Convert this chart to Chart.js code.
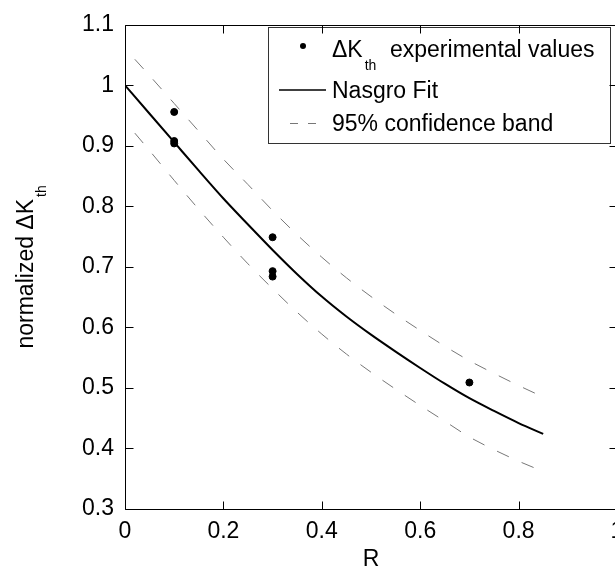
<!DOCTYPE html>
<html>
<head>
<meta charset="utf-8">
<script src="https://cdn.jsdelivr.net/npm/chart.js@4.4.1/dist/chart.umd.min.js"></script>
<style>
html, body { margin: 0; padding: 0; overflow: hidden; background: #fff; }
#wrap { width: 640px; height: 575px; }
</style>
</head>
<body>
<div id="wrap"><canvas id="myChart" width="640" height="575"></canvas></div>
<script>
const FONT = "'Liberation Sans', Arial, Helvetica, sans-serif";

// experimental threshold values
const expR = [0.1, 0.1, 0.1, 0.3, 0.3, 0.3, 0.7];
const expK = [0.956, 0.908, 0.904, 0.749, 0.693, 0.684, 0.509];

// Nasgro fit
const fitR = [0, 0.05, 0.1, 0.15, 0.2, 0.25, 0.3, 0.35, 0.4, 0.45, 0.5, 0.55, 0.6, 0.65, 0.7, 0.75, 0.8, 0.85];
const fitK = [1.000, 0.953, 0.906, 0.859, 0.813, 0.770, 0.728, 0.688, 0.651, 0.618, 0.588, 0.560, 0.533, 0.507, 0.483, 0.462, 0.442, 0.424];

// 95% confidence band
const bandR = [0.02, 0.05, 0.1, 0.15, 0.2, 0.25, 0.3, 0.35, 0.4, 0.45, 0.5, 0.55, 0.6, 0.65, 0.7, 0.75, 0.8, 0.85];
const bandUpper = [1.043, 1.016, 0.970, 0.924, 0.878, 0.836, 0.793, 0.753, 0.716, 0.682, 0.651, 0.622, 0.595, 0.569, 0.545, 0.524, 0.504, 0.485];
const bandLower = [0.921, 0.892, 0.843, 0.795, 0.749, 0.705, 0.664, 0.625, 0.589, 0.556, 0.526, 0.498, 0.471, 0.445, 0.419, 0.398, 0.379, 0.362];

const xTicks = [0, 0.2, 0.4, 0.6, 0.8, 1];
const yTicks = [0.3, 0.4, 0.5, 0.6, 0.7, 0.8, 0.9, 1, 1.1];

const legendLabels = ['experimental values', 'Nasgro Fit', '95% confidence band'];

function toPoints(xs, ys) {
    return xs.map((x, i) => ({ x: x, y: ys[i] }));
}

function fmt(v) {
    return String(Math.round(v * 10) / 10);
}

// frame, inward ticks and legend
const framePlugin = {
    id: 'frame',
    afterDatasetsDraw(chart) {
        const ctx = chart.ctx;
        const xs = chart.scales.x, ys = chart.scales.y;
        const a = chart.chartArea;
        const L = Math.round(a.left) + 0.5, R = Math.round(a.right) + 0.5;
        const T = Math.round(a.top) + 0.5, B = Math.round(a.bottom) + 0.5;
        ctx.save();

        // legend box
        ctx.fillStyle = '#fff';
        ctx.fillRect(268, 27, 342, 116);
        ctx.strokeStyle = '#333';
        ctx.lineWidth = 1;
        ctx.strokeRect(268.5, 27.5, 342, 116);

        ctx.fillStyle = '#000';
        ctx.beginPath();
        ctx.arc(303, 46, 3, 0, Math.PI * 2);
        ctx.fill();

        ctx.strokeStyle = '#000';
        ctx.lineWidth = 1.5;
        ctx.beginPath();
        ctx.moveTo(279, 90);
        ctx.lineTo(326, 90);
        ctx.stroke();

        ctx.strokeStyle = '#777';
        ctx.lineWidth = 1;
        ctx.setLineDash([8, 10]);
        ctx.lineDashOffset = -10;
        ctx.beginPath();
        ctx.moveTo(280, 123.5);
        ctx.lineTo(326, 123.5);
        ctx.stroke();
        ctx.setLineDash([]);

        ctx.fillStyle = '#000';
        ctx.textBaseline = 'alphabetic';
        ctx.textAlign = 'left';
        ctx.font = '23px ' + FONT;
        ctx.fillText('\u0394K', 332, 57);
        const kw = ctx.measureText('\u0394K').width;
        ctx.font = '14px ' + FONT;
        ctx.fillText('th', 332 + kw + 2, 70);
        ctx.font = '23px ' + FONT;
        ctx.fillText(legendLabels[0], 390, 57);
        ctx.fillText(legendLabels[1], 332, 98);
        ctx.fillText(legendLabels[2], 332, 131);

        // axes box and ticks
        ctx.strokeStyle = '#000';
        ctx.lineWidth = 1;
        ctx.beginPath();
        ctx.moveTo(L, T); ctx.lineTo(R, T); ctx.lineTo(R, B); ctx.lineTo(L, B); ctx.closePath();
        xTicks.forEach(v => {
            const px = Math.round(xs.getPixelForValue(v)) + 0.5;
            ctx.moveTo(px, B); ctx.lineTo(px, B - 8);
            ctx.moveTo(px, T); ctx.lineTo(px, T + 8);
        });
        yTicks.forEach(v => {
            const py = Math.round(ys.getPixelForValue(v)) + 0.5;
            ctx.moveTo(L, py); ctx.lineTo(L + 8, py);
            ctx.moveTo(R, py); ctx.lineTo(R - 8, py);
        });
        ctx.stroke();

        // y axis title with subscript
        const midY = (a.top + a.bottom) / 2;
        ctx.font = '23px ' + FONT;
        const main = 'normalized \u0394K';
        const mw = ctx.measureText(main).width;
        ctx.font = '14px ' + FONT;
        const sw = ctx.measureText('th').width;
        const total = mw + 2 + sw;
        ctx.translate(33, midY + total / 2);
        ctx.rotate(-Math.PI / 2);
        ctx.font = '23px ' + FONT;
        ctx.fillText(main, 0, 0);
        ctx.font = '14px ' + FONT;
        ctx.fillText('th', mw + 2, 13);
        ctx.restore();
    }
};

new Chart('myChart', {
    type: 'scatter',
    data: {
        datasets: [
            {
                label: 'experimental values',
                data: toPoints(expR, expK),
                backgroundColor: '#000',
                borderColor: '#000',
                pointRadius: 3.5,
                pointHoverRadius: 3.5
            },
            {
                label: 'Nasgro Fit',
                data: toPoints(fitR, fitK),
                showLine: true,
                borderColor: '#000',
                borderWidth: 2,
                pointRadius: 0,
                cubicInterpolationMode: 'monotone'
            },
            {
                label: 'upper band',
                data: toPoints(bandR, bandUpper),
                showLine: true,
                borderColor: '#777',
                borderWidth: 1,
                borderDash: [13, 14],
                pointRadius: 0,
                cubicInterpolationMode: 'monotone'
            },
            {
                label: 'lower band',
                data: toPoints(bandR, bandLower),
                showLine: true,
                borderColor: '#777',
                borderWidth: 1,
                borderDash: [13, 14],
                pointRadius: 0,
                cubicInterpolationMode: 'monotone'
            }
        ]
    },
    options: {
        responsive: false,
        animation: false,
        events: [],
        layout: { padding: { left: 0, right: 23, top: 20, bottom: 0 } },
        plugins: {
            legend: { display: false },
            tooltip: { enabled: false }
        },
        scales: {
            x: {
                type: 'linear',
                min: 0,
                max: 1,
                afterBuildTicks: s => { s.ticks = xTicks.map(v => ({ value: v })); },
                afterFit: s => { s.height = 66; },
                grid: { display: false, drawTicks: false },
                border: { display: false },
                ticks: {
                    padding: 9,
                    color: '#000',
                    font: { family: FONT, size: 23 },
                    maxRotation: 0,
                    callback: v => fmt(v)
                },
                title: {
                    display: true,
                    text: 'R',
                    color: '#000',
                    font: { family: FONT, size: 23 },
                    padding: { top: 0, bottom: 2 }
                }
            },
            y: {
                type: 'linear',
                min: 0.3,
                max: 1.1,
                afterBuildTicks: s => { s.ticks = yTicks.map(v => ({ value: v })); },
                afterFit: s => { s.width = 125; },
                grid: { display: false, drawTicks: false },
                border: { display: false },
                ticks: {
                    padding: 11,
                    color: '#000',
                    font: { family: FONT, size: 23 },
                    callback: v => fmt(v)
                }
            }
        }
    },
    plugins: [framePlugin]
});
</script>
</body>
</html>
